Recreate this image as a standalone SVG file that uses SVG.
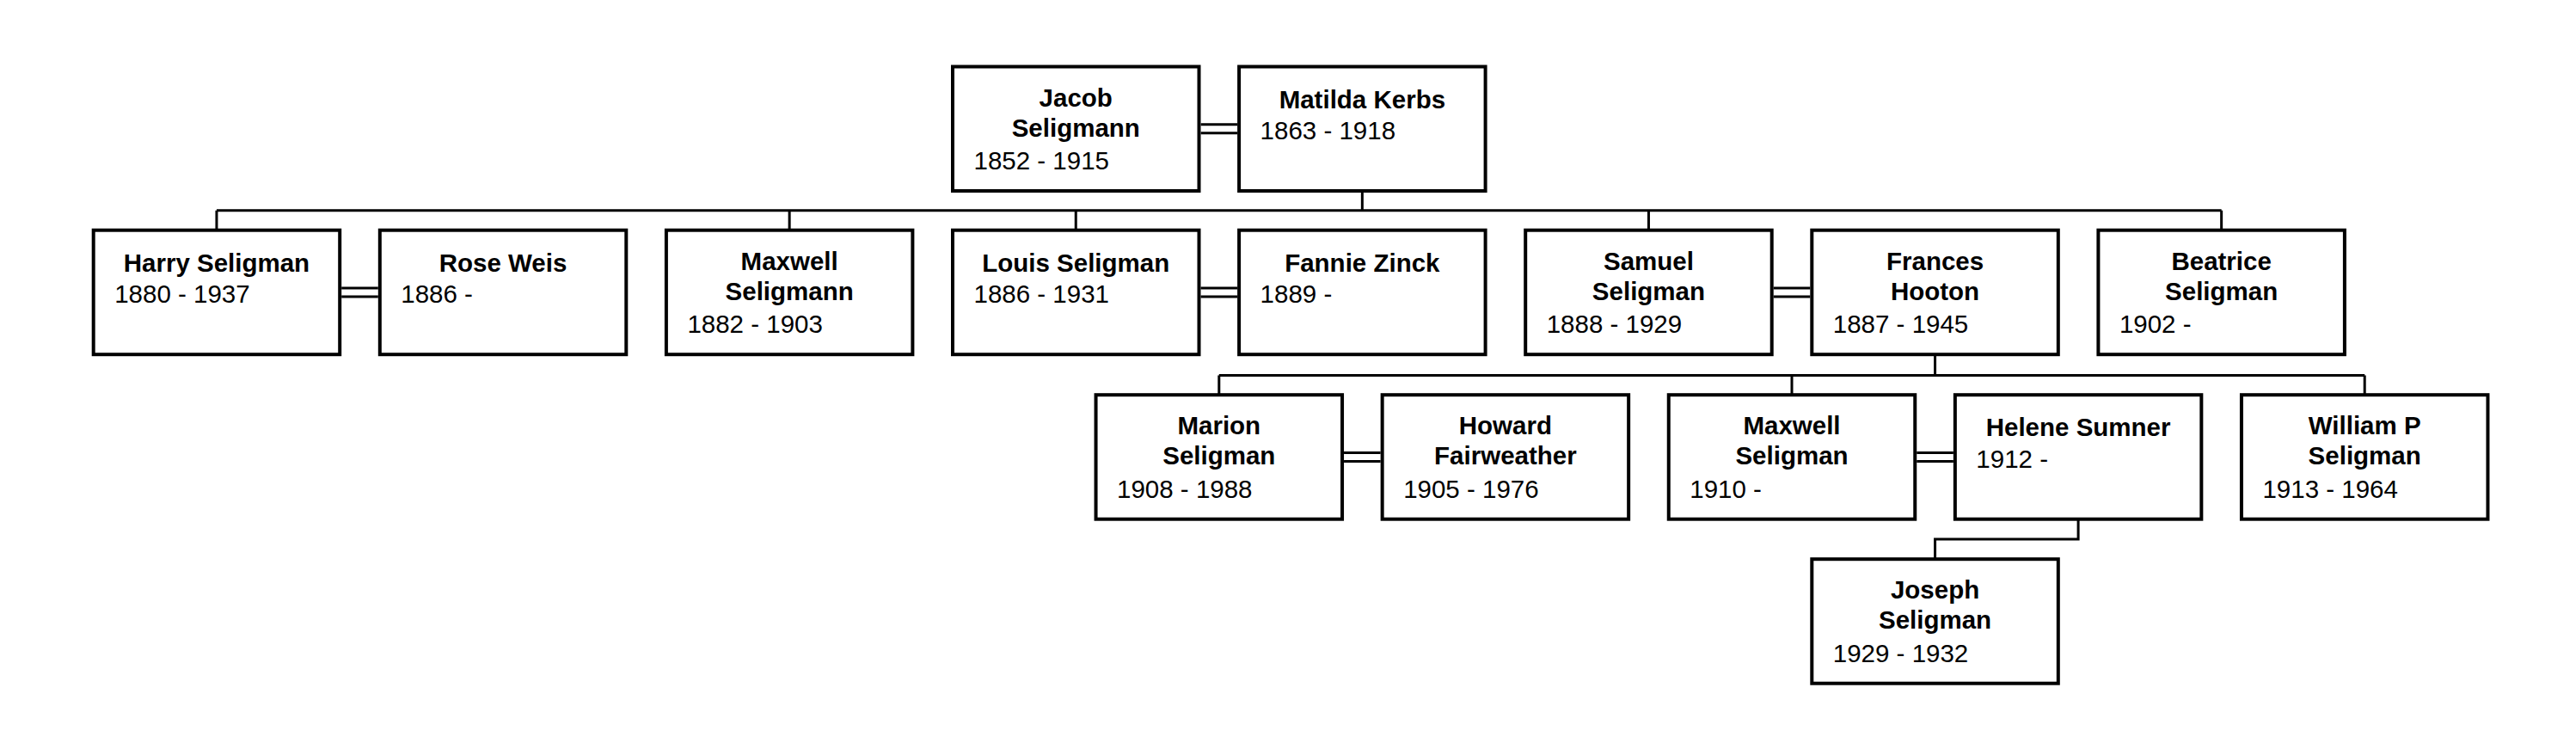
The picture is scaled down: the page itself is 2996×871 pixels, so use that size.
<svg xmlns="http://www.w3.org/2000/svg" width="2996" height="871" viewBox="0 0 2996 871">
<style>
.box{fill:#fff;stroke:#000;stroke-width:4}
.c{fill:none;stroke:#000;stroke-width:3}
text{font-family:"Liberation Sans",Arial,sans-serif;font-size:29.5px;fill:#000}
.n{font-weight:bold;text-anchor:middle}
</style>
<rect width="2996" height="871" fill="#fff"/>
<g id="connectors">
<path class="c" d="M1396.6,144.8H1439.1M1396.6,154.8H1439.1"/>
<path class="c" d="M1584.35,221.8V244.7M251.95,244.7H2583.65M251.95,244.7V267.7M918.15,244.7V267.7M1251.25,244.7V267.7M1917.45,244.7V267.7M2583.65,244.7V267.7"/>
<path class="c" d="M397.2,335H439.8M397.2,345H439.8"/>
<path class="c" d="M1396.5,335H1439.1M1396.5,345H1439.1"/>
<path class="c" d="M2062.7,335H2105.3M2062.7,345H2105.3"/>
<path class="c" d="M2250.55,412.2V436.5M1417.8,436.5H2750.2M1417.8,436.5V459.2M2084,436.5V459.2M2750.2,436.5V459.2"/>
<path class="c" d="M1563.05,526.5H1605.65M1563.05,536.5H1605.65"/>
<path class="c" d="M2229.25,526.5H2271.85M2229.25,536.5H2271.85"/>
<path class="c" d="M2417.1,603.7V627H2250.55V650.2"/>
</g>
<g id="jacob"><rect class="box" x="1108" y="77.5" width="286.5" height="144.5"/><text class="n" x="1251.25" y="123.5">Jacob</text><text class="n" x="1251.25" y="158.5">Seligmann</text><text x="1132.5" y="197">1852 - 1915</text></g>
<g id="matilda"><rect class="box" x="1441.1" y="77.5" width="286.5" height="144.5"/><text class="n" x="1584.35" y="125.5">Matilda Kerbs</text><text x="1465.6" y="162">1863 - 1918</text></g>
<g id="harry"><rect class="box" x="108.7" y="267.7" width="286.5" height="144.5"/><text class="n" x="251.95" y="315.7">Harry Seligman</text><text x="133.2" y="352.2">1880 - 1937</text></g>
<g id="rose"><rect class="box" x="441.8" y="267.7" width="286.5" height="144.5"/><text class="n" x="585.05" y="315.7">Rose Weis</text><text x="466.3" y="352.2">1886 -</text></g>
<g id="maxwell1"><rect class="box" x="774.9" y="267.7" width="286.5" height="144.5"/><text class="n" x="918.15" y="313.7">Maxwell</text><text class="n" x="918.15" y="348.7">Seligmann</text><text x="799.4" y="387.2">1882 - 1903</text></g>
<g id="louis"><rect class="box" x="1108" y="267.7" width="286.5" height="144.5"/><text class="n" x="1251.25" y="315.7">Louis Seligman</text><text x="1132.5" y="352.2">1886 - 1931</text></g>
<g id="fannie"><rect class="box" x="1441.1" y="267.7" width="286.5" height="144.5"/><text class="n" x="1584.35" y="315.7">Fannie Zinck</text><text x="1465.6" y="352.2">1889 -</text></g>
<g id="samuel"><rect class="box" x="1774.2" y="267.7" width="286.5" height="144.5"/><text class="n" x="1917.45" y="313.7">Samuel</text><text class="n" x="1917.45" y="348.7">Seligman</text><text x="1798.7" y="387.2">1888 - 1929</text></g>
<g id="frances"><rect class="box" x="2107.3" y="267.7" width="286.5" height="144.5"/><text class="n" x="2250.55" y="313.7">Frances</text><text class="n" x="2250.55" y="348.7">Hooton</text><text x="2131.8" y="387.2">1887 - 1945</text></g>
<g id="beatrice"><rect class="box" x="2440.4" y="267.7" width="286.5" height="144.5"/><text class="n" x="2583.65" y="313.7">Beatrice</text><text class="n" x="2583.65" y="348.7">Seligman</text><text x="2464.9" y="387.2">1902 -</text></g>
<g id="marion"><rect class="box" x="1274.55" y="459.2" width="286.5" height="144.5"/><text class="n" x="1417.8" y="505.2">Marion</text><text class="n" x="1417.8" y="540.2">Seligman</text><text x="1299.05" y="578.7">1908 - 1988</text></g>
<g id="howard"><rect class="box" x="1607.65" y="459.2" width="286.5" height="144.5"/><text class="n" x="1750.9" y="505.2">Howard</text><text class="n" x="1750.9" y="540.2">Fairweather</text><text x="1632.15" y="578.7">1905 - 1976</text></g>
<g id="maxwell2"><rect class="box" x="1940.75" y="459.2" width="286.5" height="144.5"/><text class="n" x="2084" y="505.2">Maxwell</text><text class="n" x="2084" y="540.2">Seligman</text><text x="1965.25" y="578.7">1910 -</text></g>
<g id="helene"><rect class="box" x="2273.85" y="459.2" width="286.5" height="144.5"/><text class="n" x="2417.1" y="507.2">Helene Sumner</text><text x="2298.35" y="543.7">1912 -</text></g>
<g id="william"><rect class="box" x="2606.95" y="459.2" width="286.5" height="144.5"/><text class="n" x="2750.2" y="505.2">William P</text><text class="n" x="2750.2" y="540.2">Seligman</text><text x="2631.45" y="578.7">1913 - 1964</text></g>
<g id="joseph"><rect class="box" x="2107.3" y="650.2" width="286.5" height="144.5"/><text class="n" x="2250.55" y="696.2">Joseph</text><text class="n" x="2250.55" y="731.2">Seligman</text><text x="2131.8" y="769.7">1929 - 1932</text></g>
</svg>
